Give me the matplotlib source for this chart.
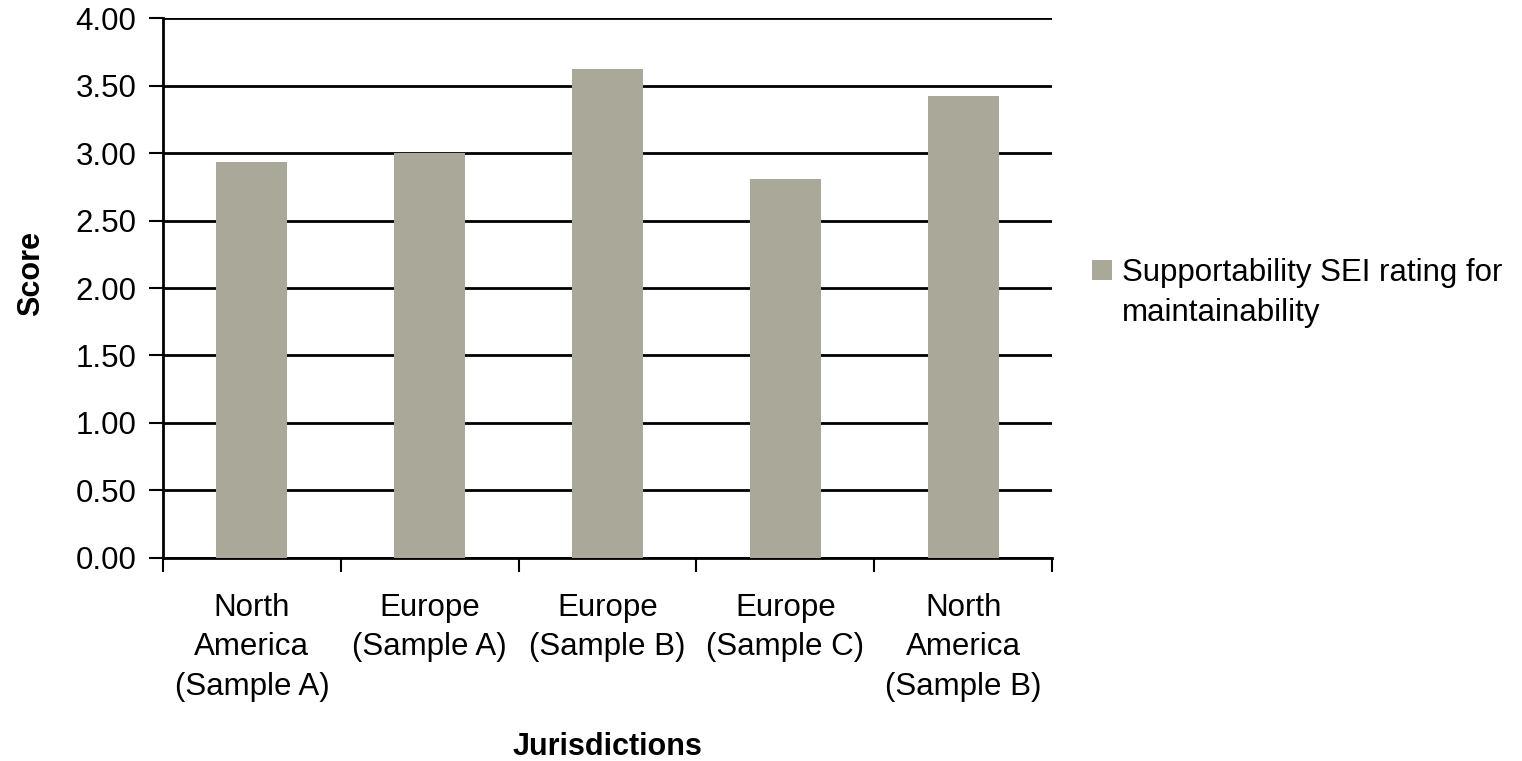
import matplotlib.pyplot as plt
import numpy as np

plt.rcParams['font.family'] = ['Liberation Sans', 'DejaVu Sans']

categories = ["North\nAmerica\n(Sample A)", "Europe\n(Sample A)", "Europe\n(Sample B)",
              "Europe\n(Sample C)", "North\nAmerica\n(Sample B)"]
scores = [2.93, 3.00, 3.62, 2.81, 3.42]
series_line1 = "Supportability SEI rating for"
series_line2 = "maintainability"
yticks = [0, 0.5, 1.0, 1.5, 2.0, 2.5, 3.0, 3.5, 4.0]

fig = plt.figure(figsize=(15.22, 7.61), dpi=100)
ax = fig.add_axes([0.1071, 0.2668, 0.5841, 0.7095])

x = np.arange(len(categories))
bars = ax.bar(x, scores, width=0.4, color='#aaa898', zorder=3)

ax.set_xlim(-0.5, len(categories) - 0.5)
ax.set_ylim(0, 4)
ax.set_yticks(yticks)
ax.set_yticklabels([f"{v:.2f}" for v in yticks], fontsize=22.5)
ax.yaxis.grid(True, color='black', linewidth=2, zorder=0)
ax.tick_params(axis='y', length=10, width=1.5, pad=9)

ax.set_xticks(x)
ax.set_xticklabels(categories, fontsize=22.5, linespacing=1.42)
ax.tick_params(axis='x', which='major', length=0, pad=25)
ax.set_xticks(np.arange(-0.5, len(categories)), minor=True)
ax.tick_params(axis='x', which='minor', length=10, width=1.5, direction='out')

for s in ['top', 'right']:
    ax.spines[s].set_visible(False)
for s in ['left', 'bottom']:
    ax.spines[s].set_linewidth(2)

ax.set_ylabel("Score", fontsize=22, fontweight='bold')
ax.yaxis.set_label_coords(-0.131, 0.526)
ax.set_xlabel("Jurisdictions", fontsize=22, fontweight='bold')
ax.xaxis.set_label_coords(0.5, -0.322)

leg = fig.legend(handles=[bars], labels=[series_line1], loc='upper left',
                 bbox_to_anchor=(0.699, 0.698), frameon=False, fontsize=22.5,
                 handlelength=0.65, handleheight=0.65, handletextpad=0.3)

# second line of the legend label, under the first one
fig.canvas.draw()
bb = leg.get_texts()[0].get_window_extent().transformed(fig.transFigure.inverted())
fig.text(bb.x0, bb.y0 - 0.052, series_line2, fontsize=22.5, va='bottom', ha='left')

fig.savefig("out.png", dpi=100)
